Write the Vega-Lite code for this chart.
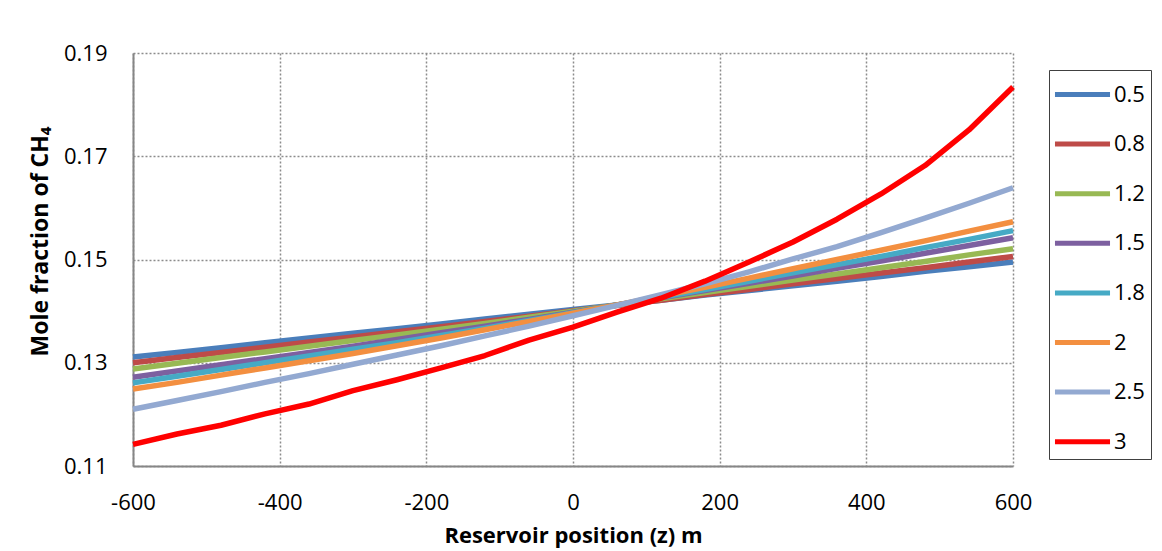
{
  "$schema": "https://vega.github.io/schema/vega-lite/v6.json",
  "autosize": {"type": "none"},
  "padding": {"left": 133, "top": 53, "right": 149, "bottom": 85},
  "width": 880,
  "height": 413,
  "background": "white",
  "config": {
    "font": "Open Sans",
    "view": {"stroke": null}
  },
  "datasets": {
    "profiles": [
      {"z": -600, "ratio": "0.5", "fraction": 0.1311}, {"z": -540, "ratio": "0.5", "fraction": 0.1320}, {"z": -480, "ratio": "0.5", "fraction": 0.1329}, {"z": -420, "ratio": "0.5", "fraction": 0.1339}, {"z": -360, "ratio": "0.5", "fraction": 0.1348}, {"z": -300, "ratio": "0.5", "fraction": 0.1357}, {"z": -240, "ratio": "0.5", "fraction": 0.1366}, {"z": -180, "ratio": "0.5", "fraction": 0.1375}, {"z": -120, "ratio": "0.5", "fraction": 0.1385}, {"z": -60, "ratio": "0.5", "fraction": 0.1394}, {"z": 0, "ratio": "0.5", "fraction": 0.1403}, {"z": 60, "ratio": "0.5", "fraction": 0.1412}, {"z": 120, "ratio": "0.5", "fraction": 0.1421}, {"z": 180, "ratio": "0.5", "fraction": 0.1431}, {"z": 240, "ratio": "0.5", "fraction": 0.1440}, {"z": 300, "ratio": "0.5", "fraction": 0.1449}, {"z": 360, "ratio": "0.5", "fraction": 0.1458}, {"z": 420, "ratio": "0.5", "fraction": 0.1467}, {"z": 480, "ratio": "0.5", "fraction": 0.1477}, {"z": 540, "ratio": "0.5", "fraction": 0.1486}, {"z": 600, "ratio": "0.5", "fraction": 0.1495},
      {"z": -600, "ratio": "0.8", "fraction": 0.1300}, {"z": -540, "ratio": "0.8", "fraction": 0.1310}, {"z": -480, "ratio": "0.8", "fraction": 0.1320}, {"z": -420, "ratio": "0.8", "fraction": 0.1330}, {"z": -360, "ratio": "0.8", "fraction": 0.1340}, {"z": -300, "ratio": "0.8", "fraction": 0.1350}, {"z": -240, "ratio": "0.8", "fraction": 0.1360}, {"z": -180, "ratio": "0.8", "fraction": 0.1370}, {"z": -120, "ratio": "0.8", "fraction": 0.1380}, {"z": -60, "ratio": "0.8", "fraction": 0.1390}, {"z": 0, "ratio": "0.8", "fraction": 0.1401}, {"z": 60, "ratio": "0.8", "fraction": 0.1411}, {"z": 120, "ratio": "0.8", "fraction": 0.1421}, {"z": 180, "ratio": "0.8", "fraction": 0.1432}, {"z": 240, "ratio": "0.8", "fraction": 0.1442}, {"z": 300, "ratio": "0.8", "fraction": 0.1453}, {"z": 360, "ratio": "0.8", "fraction": 0.1463}, {"z": 420, "ratio": "0.8", "fraction": 0.1474}, {"z": 480, "ratio": "0.8", "fraction": 0.1484}, {"z": 540, "ratio": "0.8", "fraction": 0.1495}, {"z": 600, "ratio": "0.8", "fraction": 0.1506},
      {"z": -600, "ratio": "1.2", "fraction": 0.1288}, {"z": -540, "ratio": "1.2", "fraction": 0.1299}, {"z": -480, "ratio": "1.2", "fraction": 0.1310}, {"z": -420, "ratio": "1.2", "fraction": 0.1321}, {"z": -360, "ratio": "1.2", "fraction": 0.1332}, {"z": -300, "ratio": "1.2", "fraction": 0.1343}, {"z": -240, "ratio": "1.2", "fraction": 0.1354}, {"z": -180, "ratio": "1.2", "fraction": 0.1365}, {"z": -120, "ratio": "1.2", "fraction": 0.1376}, {"z": -60, "ratio": "1.2", "fraction": 0.1388}, {"z": 0, "ratio": "1.2", "fraction": 0.1400}, {"z": 60, "ratio": "1.2", "fraction": 0.1412}, {"z": 120, "ratio": "1.2", "fraction": 0.1424}, {"z": 180, "ratio": "1.2", "fraction": 0.1436}, {"z": 240, "ratio": "1.2", "fraction": 0.1448}, {"z": 300, "ratio": "1.2", "fraction": 0.1460}, {"z": 360, "ratio": "1.2", "fraction": 0.1472}, {"z": 420, "ratio": "1.2", "fraction": 0.1484}, {"z": 480, "ratio": "1.2", "fraction": 0.1496}, {"z": 540, "ratio": "1.2", "fraction": 0.1509}, {"z": 600, "ratio": "1.2", "fraction": 0.1521},
      {"z": -600, "ratio": "1.5", "fraction": 0.1272}, {"z": -540, "ratio": "1.5", "fraction": 0.1284}, {"z": -480, "ratio": "1.5", "fraction": 0.1296}, {"z": -420, "ratio": "1.5", "fraction": 0.1308}, {"z": -360, "ratio": "1.5", "fraction": 0.1320}, {"z": -300, "ratio": "1.5", "fraction": 0.1332}, {"z": -240, "ratio": "1.5", "fraction": 0.1345}, {"z": -180, "ratio": "1.5", "fraction": 0.1358}, {"z": -120, "ratio": "1.5", "fraction": 0.1371}, {"z": -60, "ratio": "1.5", "fraction": 0.1384}, {"z": 0, "ratio": "1.5", "fraction": 0.1398}, {"z": 60, "ratio": "1.5", "fraction": 0.1412}, {"z": 120, "ratio": "1.5", "fraction": 0.1426}, {"z": 180, "ratio": "1.5", "fraction": 0.1440}, {"z": 240, "ratio": "1.5", "fraction": 0.1454}, {"z": 300, "ratio": "1.5", "fraction": 0.1468}, {"z": 360, "ratio": "1.5", "fraction": 0.1483}, {"z": 420, "ratio": "1.5", "fraction": 0.1497}, {"z": 480, "ratio": "1.5", "fraction": 0.1512}, {"z": 540, "ratio": "1.5", "fraction": 0.1527}, {"z": 600, "ratio": "1.5", "fraction": 0.1542},
      {"z": -600, "ratio": "1.8", "fraction": 0.1261}, {"z": -540, "ratio": "1.8", "fraction": 0.1274}, {"z": -480, "ratio": "1.8", "fraction": 0.1287}, {"z": -420, "ratio": "1.8", "fraction": 0.1300}, {"z": -360, "ratio": "1.8", "fraction": 0.1313}, {"z": -300, "ratio": "1.8", "fraction": 0.1326}, {"z": -240, "ratio": "1.8", "fraction": 0.1339}, {"z": -180, "ratio": "1.8", "fraction": 0.1353}, {"z": -120, "ratio": "1.8", "fraction": 0.1367}, {"z": -60, "ratio": "1.8", "fraction": 0.1382}, {"z": 0, "ratio": "1.8", "fraction": 0.1397}, {"z": 60, "ratio": "1.8", "fraction": 0.1412}, {"z": 120, "ratio": "1.8", "fraction": 0.1427}, {"z": 180, "ratio": "1.8", "fraction": 0.1442}, {"z": 240, "ratio": "1.8", "fraction": 0.1458}, {"z": 300, "ratio": "1.8", "fraction": 0.1474}, {"z": 360, "ratio": "1.8", "fraction": 0.1490}, {"z": 420, "ratio": "1.8", "fraction": 0.1506}, {"z": 480, "ratio": "1.8", "fraction": 0.1523}, {"z": 540, "ratio": "1.8", "fraction": 0.1539}, {"z": 600, "ratio": "1.8", "fraction": 0.1556},
      {"z": -600, "ratio": "2", "fraction": 0.1249}, {"z": -540, "ratio": "2", "fraction": 0.1262}, {"z": -480, "ratio": "2", "fraction": 0.1276}, {"z": -420, "ratio": "2", "fraction": 0.1290}, {"z": -360, "ratio": "2", "fraction": 0.1304}, {"z": -300, "ratio": "2", "fraction": 0.1318}, {"z": -240, "ratio": "2", "fraction": 0.1333}, {"z": -180, "ratio": "2", "fraction": 0.1348}, {"z": -120, "ratio": "2", "fraction": 0.1364}, {"z": -60, "ratio": "2", "fraction": 0.1380}, {"z": 0, "ratio": "2", "fraction": 0.1396}, {"z": 60, "ratio": "2", "fraction": 0.1412}, {"z": 120, "ratio": "2", "fraction": 0.1429}, {"z": 180, "ratio": "2", "fraction": 0.1446}, {"z": 240, "ratio": "2", "fraction": 0.1464}, {"z": 300, "ratio": "2", "fraction": 0.1482}, {"z": 360, "ratio": "2", "fraction": 0.1500}, {"z": 420, "ratio": "2", "fraction": 0.1518}, {"z": 480, "ratio": "2", "fraction": 0.1536}, {"z": 540, "ratio": "2", "fraction": 0.1555}, {"z": 600, "ratio": "2", "fraction": 0.1573},
      {"z": -600, "ratio": "2.5", "fraction": 0.1210}, {"z": -540, "ratio": "2.5", "fraction": 0.1227}, {"z": -480, "ratio": "2.5", "fraction": 0.1244}, {"z": -420, "ratio": "2.5", "fraction": 0.1262}, {"z": -360, "ratio": "2.5", "fraction": 0.1279}, {"z": -300, "ratio": "2.5", "fraction": 0.1297}, {"z": -240, "ratio": "2.5", "fraction": 0.1315}, {"z": -180, "ratio": "2.5", "fraction": 0.1333}, {"z": -120, "ratio": "2.5", "fraction": 0.1352}, {"z": -60, "ratio": "2.5", "fraction": 0.1371}, {"z": 0, "ratio": "2.5", "fraction": 0.1391}, {"z": 60, "ratio": "2.5", "fraction": 0.1411}, {"z": 120, "ratio": "2.5", "fraction": 0.1432}, {"z": 180, "ratio": "2.5", "fraction": 0.1453}, {"z": 240, "ratio": "2.5", "fraction": 0.1476}, {"z": 300, "ratio": "2.5", "fraction": 0.1501}, {"z": 360, "ratio": "2.5", "fraction": 0.1525}, {"z": 420, "ratio": "2.5", "fraction": 0.1552}, {"z": 480, "ratio": "2.5", "fraction": 0.1580}, {"z": 540, "ratio": "2.5", "fraction": 0.1609}, {"z": 600, "ratio": "2.5", "fraction": 0.1639},
      {"z": -600, "ratio": "3", "fraction": 0.1142}, {"z": -540, "ratio": "3", "fraction": 0.1162}, {"z": -480, "ratio": "3", "fraction": 0.1179}, {"z": -420, "ratio": "3", "fraction": 0.1201}, {"z": -360, "ratio": "3", "fraction": 0.1220}, {"z": -300, "ratio": "3", "fraction": 0.1246}, {"z": -240, "ratio": "3", "fraction": 0.1267}, {"z": -180, "ratio": "3", "fraction": 0.1290}, {"z": -120, "ratio": "3", "fraction": 0.1314}, {"z": -60, "ratio": "3", "fraction": 0.1344}, {"z": 0, "ratio": "3", "fraction": 0.1369}, {"z": 60, "ratio": "3", "fraction": 0.1398}, {"z": 120, "ratio": "3", "fraction": 0.1425}, {"z": 180, "ratio": "3", "fraction": 0.1458}, {"z": 240, "ratio": "3", "fraction": 0.1495}, {"z": 300, "ratio": "3", "fraction": 0.1534}, {"z": 360, "ratio": "3", "fraction": 0.1578}, {"z": 420, "ratio": "3", "fraction": 0.1627}, {"z": 480, "ratio": "3", "fraction": 0.1682}, {"z": 540, "ratio": "3", "fraction": 0.1751}, {"z": 600, "ratio": "3", "fraction": 0.1834}
    ]
  },
  "data": {"name": "profiles"},
  "mark": {"type": "line", "strokeWidth": 5.5, "strokeCap": "butt", "strokeJoin": "round"},
  "encoding": {
    "x": {
      "field": "z",
      "type": "quantitative",
      "scale": {"domain": [-600, 600], "nice": false},
      "axis": {
        "title": "Reservoir position (z) m",
        "values": [-600, -400, -200, 0, 200, 400, 600],
        "labelExpr": "'' + datum.value",
        "grid": true,
        "gridDash": [2, 2],
        "gridColor": "#8c8c8c",
        "gridWidth": 1.5,
        "domainColor": "#868686",
        "domainWidth": 2,
        "ticks": false,
        "labelFontSize": 22,
        "labelColor": "#000000",
        "labelPadding": 26,
        "labelFlush": false,
        "titleFontSize": 22,
        "titleFontWeight": "bold",
        "titleColor": "#000000",
        "titlePadding": 12
      }
    },
    "y": {
      "field": "fraction",
      "type": "quantitative",
      "scale": {"domain": [0.11, 0.19], "nice": false, "zero": false},
      "axis": {
        "title": "Mole fraction of CH₄",
        "values": [0.11, 0.13, 0.15, 0.17, 0.19],
        "format": ".2f",
        "grid": true,
        "gridDash": [2, 2],
        "gridColor": "#8c8c8c",
        "gridWidth": 1.5,
        "domainColor": "#868686",
        "domainWidth": 2,
        "ticks": false,
        "labelFontSize": 22,
        "labelColor": "#000000",
        "labelPadding": 26,
        "titleFontSize": 23,
        "titleFontWeight": "bold",
        "titleColor": "#000000",
        "titlePadding": 11,
        "titleY": 188
      }
    },
    "color": {
      "field": "ratio",
      "type": "nominal",
      "scale": {
        "domain": ["0.5", "0.8", "1.2", "1.5", "1.8", "2", "2.5", "3"],
        "range": ["#4a7ebb", "#be4b48", "#98b954", "#7d60a0", "#46aac5", "#f38f40", "#93a9d1", "#ff0000"]
      },
      "legend": {
        "title": null,
        "orient": "none",
        "legendX": 916,
        "legendY": 17,
        "padding": 6,
        "strokeColor": "#404040",
        "symbolType": "M-1.72,0H1.72",
        "symbolSize": 1024,
        "symbolStrokeWidth": 5,
        "symbolOffset": 9,
        "labelOffset": 13,
        "rowPadding": 19.6,
        "labelFontSize": 22,
        "labelColor": "#000000"
      }
    }
  }
}
